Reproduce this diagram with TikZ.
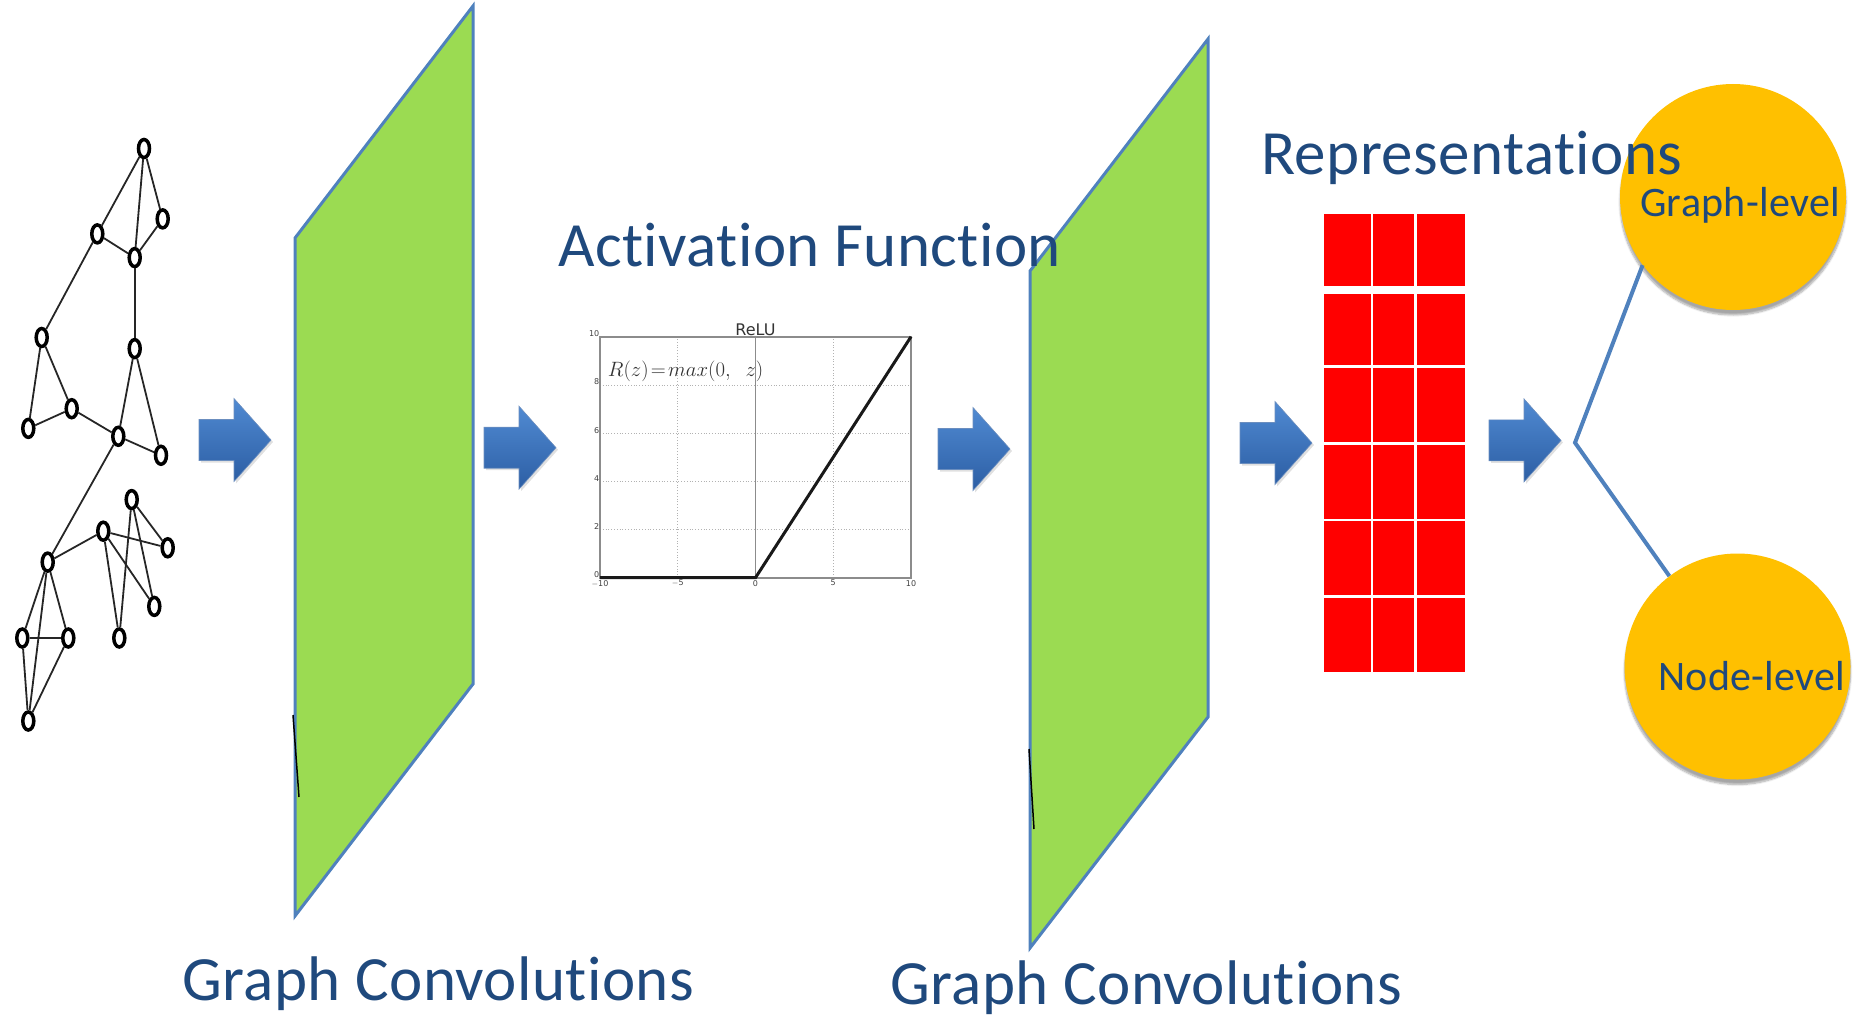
\documentclass[tikz,border=0pt]{standalone}
\usepackage[no-math]{fontspec}
\setmainfont{Carlito}[Ligatures={NoCommon,NoContextual}, LetterSpace=0.7]
\newfontfamily\plotfont{DejaVu Sans}
\usetikzlibrary{shapes.geometric,shadows.blur}

\definecolor{titleblue}{RGB}{31,73,125}
\definecolor{panelgreen}{RGB}{155,219,82}
\definecolor{edgeblue}{RGB}{79,129,189}
\definecolor{arrowtop}{RGB}{80,138,210}
\definecolor{arrowbot}{RGB}{44,94,164}
\definecolor{gold}{RGB}{255,192,0}
\definecolor{cellred}{RGB}{255,0,0}
\definecolor{framegray}{RGB}{140,140,140}

\tikzset{
  title/.style={font=\fontsize{63}{70}\selectfont, text=titleblue, inner sep=0pt, anchor=base west},
  sublabel/.style={font=\fontsize{42}{48}\selectfont, text=titleblue, inner sep=0pt, anchor=base west},
  panel/.style={fill=panelgreen, draw=edgeblue, line width=3pt, line join=miter},
  gnode/.style={ellipse, draw=black, line width=3.5pt, fill=white, minimum width=11pt, minimum height=18pt, inner sep=0pt},
  gedge/.style={draw=black!85, line width=1.8pt},
  blockarrow/.style={top color=arrowtop, bottom color=arrowbot, draw=arrowbot!70, line width=0.6pt},
  outcircle/.style={circle, fill=gold, minimum size=226pt, inner sep=0pt,
    blur shadow={shadow xshift=0pt, shadow yshift=-5pt, shadow blur steps=8, shadow opacity=35}},
  cell/.style={fill=cellred},
  branch/.style={draw=edgeblue, line width=4pt},
  tick/.style={font=\plotfont\fontsize{8}{9}\selectfont, text=black!75, inner sep=1pt},
}

\begin{document}
\begin{tikzpicture}[x=1pt,y=-1pt]
\useasboundingbox (0,0) rectangle (1865,1019);

% convolution panels
\draw[panel] (295,238) -- (473,6) -- (473,684) -- (295,916) -- cycle;
\draw[panel] (1030,271) -- (1208,39) -- (1208,717) -- (1030,948) -- cycle;
\draw[black, line width=1.5pt] (293,715) -- (299,797);
\draw[black, line width=1.5pt] (1029,749) -- (1034,829);

% block arrows between the stages
\foreach \ax/\ay in {199/440, 484/447.7, 938/449, 1240/443, 1489/440.4}{
  \fill[black, opacity=0.12] (\ax+2,\ay-18.5) -- (\ax+37,\ay-18.5) -- (\ax+37,\ay-39.5)
     -- (\ax+74,\ay+2) -- (\ax+37,\ay+43.5) -- (\ax+37,\ay+22.5) -- (\ax+2,\ay+22.5) -- cycle;
  \draw[blockarrow] (\ax,\ay-20.5) -- (\ax+35,\ay-20.5) -- (\ax+35,\ay-41.5)
     -- (\ax+72,\ay) -- (\ax+35,\ay+41.5) -- (\ax+35,\ay+20.5) -- (\ax,\ay+20.5) -- cycle;
}

% input graph
\foreach \n/\x/\y in {1/144/148.5, 2/162.7/218.9, 3/97.3/233.9, 4/134.7/257.6,
    5/41.7/337.5, 6/134.7/348.6, 7/71.7/408.7, 8/28.3/428.4, 9/118.3/436.3,
    10/161/455.3, 11/131.7/499.6, 12/103.3/531.2, 13/167.7/547.8, 14/47.7/562.1,
    15/154.3/606.4, 16/22.3/638, 17/68.3/638, 18/119.3/638, 19/28.3/721}{
  \node[gnode] (n\n) at (\x,\y) {};
}
\foreach \a/\b in {1/3, 1/4, 1/2, 2/4, 3/4, 3/5, 4/6, 5/8, 5/7, 7/8, 7/9, 6/9, 6/10,
    9/10, 9/14, 14/12, 12/13, 12/15, 12/18, 11/18, 11/13, 11/15, 14/16, 14/17,
    14/19, 16/17, 16/19, 17/19}{
  \draw[gedge] (n\a) -- (n\b);
}

% ReLU plot
\begin{scope}[shift={(755.5,577.7)}, x=15.55pt, y=24.1pt]
  \foreach \gx in {-5,5}{
    \draw[black!30, dotted, line width=0.8pt] (\gx,0) -- (\gx,10);
  }
  \foreach \gy in {2,4,6,8}{
    \draw[black!30, dotted, line width=0.8pt] (-10,\gy) -- (10,\gy);
  }
  \draw[black!45, line width=0.9pt] (0,0) -- (0,10);
  \draw[framegray, line width=1.8pt] (-10,0) rectangle (10,10);
  \draw[black!90, line width=3pt] (-10,0) -- (0,0) -- (10,10);
  \node[font=\plotfont\fontsize{16}{18}\selectfont, text=black!80, anchor=south, inner sep=1pt] (relutitle) at (0,10) {ReLU};
  \node[anchor=west, inner sep=0pt, text=black!80, font=\fontsize{22}{25}\selectfont] (formula) at (-9.5,8.55) {$R(z)\!=\!max(0,\;\; z)$};
  \foreach \t/\lab in {-10/$-$10, -5/$-$5, 0/0, 5/5, 10/10}{
    \node[tick, anchor=north] (xt\t) at (\t,-0.05) {\lab};
  }
  \foreach \t in {0,2,4,6,8,10}{
    \node[tick, anchor=east, inner sep=0.5pt] (yt\t) at (-10,\t+0.12) {\t};
  }
\end{scope}

% representation matrix
\foreach \c/\xa/\xb in {1/1324/1370.7, 2/1373.3/1414.3, 3/1417/1465}{
  \foreach \r/\ya/\yb in {1/214/285.7, 2/293.7/365, 3/367.7/442, 4/444.7/518.7, 5/521.3/595.3, 6/598/672.3}{
    \fill[cell] (\xa,\ya) rectangle (\xb,\yb);
  }
}

% readout targets
\node[outcircle] (gl) at (1733,197) {};
\node[outcircle] (nl) at (1737.5,666.5) {};
\coordinate (fork) at (1575,442.7);
\draw[branch] (gl.217) -- (fork) -- (nl.127);

% labels
\node[title] (tact) at (558,266) {Activation Function};
\node[title] (trep) at (1261,175) {Representations};
\node[title] (tgc1) at (182,1000) {Graph Convolutions};
\node[title] (tgc2) at (890,1004) {Graph Convolutions};
\node[sublabel] (lgraph) at (1640,217) {Graph-level};
\node[sublabel] (lnode) at (1658,690) {Node-level};
\end{tikzpicture}
\end{document}
